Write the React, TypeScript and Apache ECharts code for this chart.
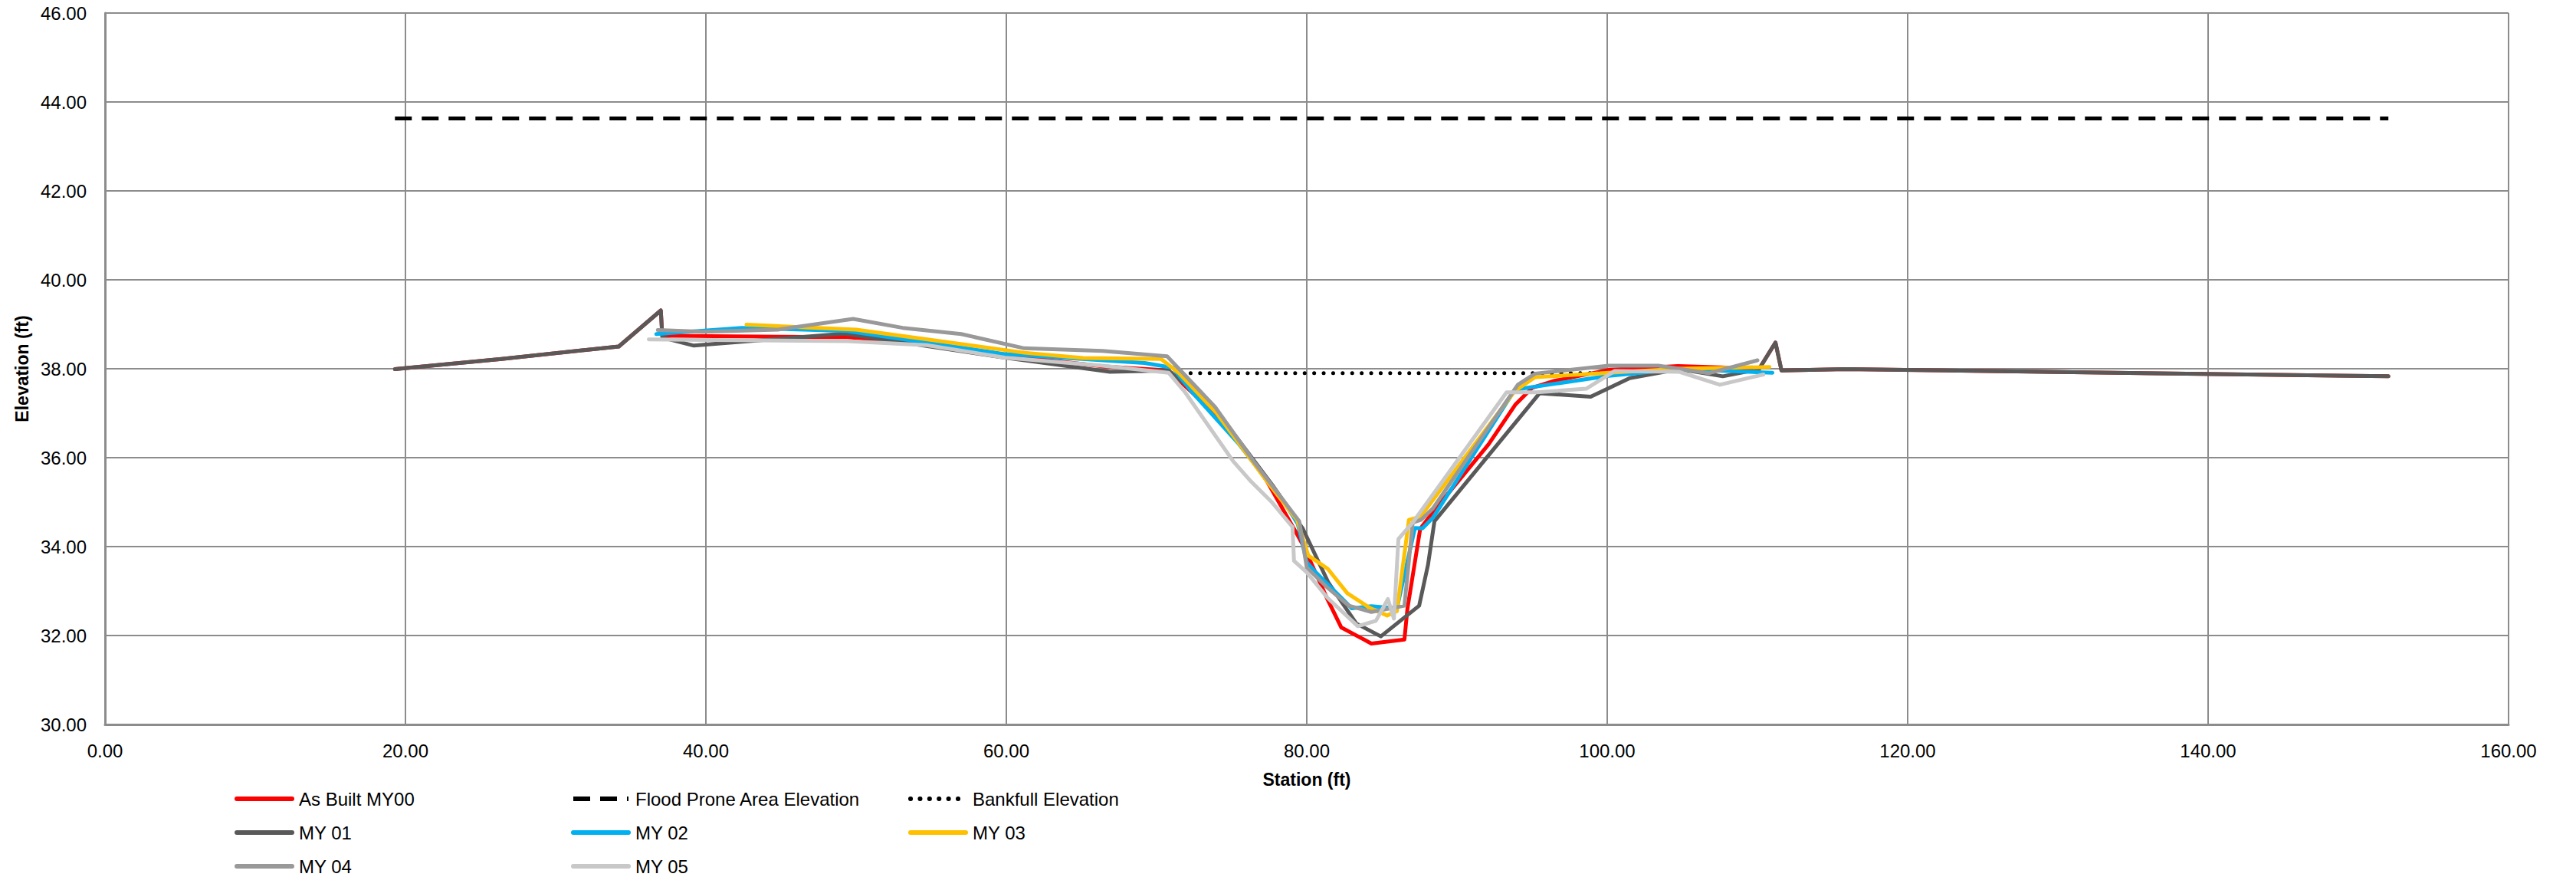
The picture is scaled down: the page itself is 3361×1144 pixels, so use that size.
import React, { useEffect, useRef } from "react";
import * as echarts from "echarts";

// Station (ft), Elevation (ft)
const asBuiltMY00: [number, number][] = [
  [19.3, 37.99], [26.4, 38.22], [34.2, 38.5], [37.0, 39.31], [37.1, 38.74], [49.4, 38.71],
  [55.0, 38.55], [59.9, 38.3], [66.5, 38.05], [70.8, 37.96], [71.3, 37.8], [74.5, 36.8],
  [77.3, 35.5], [79.4, 34.25], [79.8, 34.0], [81.4, 32.8], [82.3, 32.18], [84.3, 31.82],
  [86.5, 31.91], [86.7, 32.6], [87.55, 34.4], [88.6, 34.86], [92.1, 36.3], [93.9, 37.2],
  [95.0, 37.57], [96.5, 37.73], [100.2, 37.98], [104.7, 38.06], [107.6, 38.03], [110.1, 37.99],
  [111.2, 38.59], [111.6, 37.96], [115.9, 37.99], [152.0, 37.83],
];
const floodProne: [number, number][] = [[19.3, 43.63], [152.0, 43.63]];
const bankfull: [number, number][] = [[71.0, 37.9], [100.0, 37.9]];
const my01: [number, number][] = [
  [19.3, 37.99], [26.4, 38.22], [34.2, 38.5], [37.0, 39.31], [37.1, 38.7], [39.2, 38.52],
  [49.2, 38.79], [59.9, 38.25], [66.9, 37.93], [70.8, 37.96], [73.9, 37.1], [77.7, 35.39],
  [79.74, 34.4], [81.44, 33.19], [83.3, 32.27], [84.93, 31.98], [87.48, 32.67], [88.07, 33.59],
  [88.5, 34.57], [95.5, 37.45], [98.9, 37.37], [101.5, 37.79], [104.8, 37.99], [107.7, 37.83],
  [110.1, 37.99], [111.2, 38.59], [111.6, 37.96], [115.9, 37.99], [152.0, 37.83],
];
const my02: [number, number][] = [
  [36.7, 38.78], [42.4, 38.92], [49.4, 38.85], [59.9, 38.33], [69.2, 38.13], [71.1, 38.02],
  [72.3, 37.5], [75.5, 36.3], [78.5, 35.0], [79.4, 34.51], [80.0, 33.65], [80.6, 33.42],
  [83.0, 32.61], [84.3, 32.66], [86.0, 32.61], [87.2, 34.42], [87.7, 34.41], [88.4, 34.65],
  [93.86, 37.53], [100.1, 37.84], [104.8, 37.99], [111.0, 37.91],
];
const my03: [number, number][] = [
  [42.7, 38.99], [50.0, 38.88], [61.2, 38.36], [65.1, 38.24], [70.3, 38.22], [71.5, 37.9],
  [74.0, 37.0], [77.5, 35.4], [79.35, 34.6], [80.1, 33.8], [81.4, 33.5], [82.7, 32.95],
  [84.2, 32.62], [85.35, 32.45], [86.0, 32.55], [86.8, 34.6], [87.55, 34.67], [93.85, 37.5],
  [95.2, 37.81], [100.1, 37.91], [104.8, 38.0], [110.8, 38.04],
];
const my04: [number, number][] = [
  [36.8, 38.87], [39.8, 38.83], [44.8, 38.88], [49.8, 39.12], [53.1, 38.92], [57.0, 38.78],
  [61.2, 38.46], [66.4, 38.4], [70.7, 38.28], [73.9, 37.14], [76.5, 35.9], [79.5, 34.57],
  [80.0, 33.53], [81.4, 33.07], [82.8, 32.67], [84.3, 32.53], [86.5, 32.67], [87.05, 34.54],
  [87.6, 34.6], [88.4, 34.86], [94.05, 37.64], [95.2, 37.89], [100.1, 38.07], [103.4, 38.07],
  [106.75, 37.9], [110.0, 38.19],
];
const my05: [number, number][] = [
  [36.2, 38.66], [49.4, 38.62], [54.7, 38.53], [59.9, 38.25], [66.4, 38.07], [70.8, 37.91],
  [71.9, 37.47], [75.1, 35.92], [76.3, 35.46], [77.7, 34.99], [79.05, 34.44], [79.15, 33.68],
  [80.0, 33.42], [81.4, 32.84], [83.4, 32.21], [84.6, 32.33], [85.4, 32.82], [85.8, 32.38],
  [86.1, 34.17], [87.05, 34.54], [93.3, 37.47], [95.3, 37.47], [98.6, 37.55], [100.5, 37.95],
  [104.8, 37.93], [107.5, 37.64], [110.4, 37.87],
];

const seriesNames = [
  "As Built MY00", "Flood Prone Area Elevation", "Bankfull Elevation",
  "MY 01", "MY 02", "MY 03", "MY 04", "MY 05",
];
// legend grid: [column, row] for each series name, in the same order
const legendCells: [number, number][] = [
  [0, 0], [1, 0], [2, 0], [0, 1], [1, 1], [2, 1], [0, 2], [1, 2],
];

const FONT = "Liberation Sans, Arial, sans-serif";

export default function App() {
  const ref = useRef<HTMLDivElement>(null);
  useEffect(() => {
    if (!ref.current) return;
    const chart = echarts.init(ref.current, undefined, { renderer: "svg" });
    const line = (name: string, data: [number, number][], color: string, extra: any = {}) => ({
      name,
      type: "line",
      data,
      symbol: "none",
      showSymbol: false,
      lineStyle: { color, width: 5, cap: "round", join: "round", ...extra },
      itemStyle: { color },
      z: 2,
    });
    const colLeft = [306, 745, 1185];
    const rowTop = [1030, 1074, 1118];
    const legends = seriesNames.map((n, i) => ({
      orient: "horizontal",
      left: colLeft[legendCells[i][0]],
      top: rowTop[legendCells[i][1]],
      itemWidth: 72,
      itemHeight: 24,
      itemGap: 0,
      padding: 0,
      itemStyle: { opacity: 0 },
      lineStyle: { width: 6 },
      textStyle: {
        fontSize: 24, lineHeight: 24, color: "#000", fontFamily: FONT, padding: [0, 0, 0, 4],
      },
      selectedMode: false,
      data: [n],
    }));
    chart.setOption({
      animation: false,
      backgroundColor: "#fff",
      textStyle: { fontFamily: FONT },
      grid: { left: 137, right: 88, top: 17, bottom: 199, containLabel: false },
      legend: legends,
      xAxis: {
        type: "value",
        min: 0,
        max: 160,
        interval: 20,
        name: "Station (ft)",
        nameLocation: "middle",
        nameGap: 60,
        nameTextStyle: { fontSize: 23, fontWeight: "bold", color: "#000", fontFamily: FONT },
        axisLine: { show: true, onZero: false, lineStyle: { color: "#8c8c8c", width: 3 } },
        axisTick: { show: false },
        axisLabel: {
          fontSize: 24, color: "#000", margin: 22, fontFamily: FONT,
          formatter: (v: number) => v.toFixed(2),
        },
        splitLine: { show: true, lineStyle: { color: "#8c8c8c", width: 2 } },
      },
      yAxis: {
        type: "value",
        min: 30,
        max: 46,
        interval: 2,
        name: "Elevation (ft)",
        nameLocation: "middle",
        nameGap: 97,
        nameTextStyle: { fontSize: 23, fontWeight: "bold", color: "#000", fontFamily: FONT },
        axisLine: { show: true, onZero: false, lineStyle: { color: "#8c8c8c", width: 3 } },
        axisTick: { show: false },
        axisLabel: {
          fontSize: 24, color: "#000", margin: 24, fontFamily: FONT,
          formatter: (v: number) => v.toFixed(2),
        },
        splitLine: { show: true, lineStyle: { color: "#8c8c8c", width: 2 } },
      },
      series: [
        line(seriesNames[0], asBuiltMY00, "#ff0000"),
        line(seriesNames[1], floodProne, "#000000", { type: [22, 13], width: 5, cap: "butt" }),
        line(seriesNames[2], bankfull, "#000000", { type: [0.1, 12.3], width: 5, cap: "round" }),
        line(seriesNames[3], my01, "#595959"),
        line(seriesNames[4], my02, "#00b0f0"),
        line(seriesNames[5], my03, "#ffc000"),
        line(seriesNames[6], my04, "#999999"),
        line(seriesNames[7], my05, "#c8c8c8"),
      ],
    });
    return () => chart.dispose();
  }, []);
  return (
    <div
      ref={ref}
      style={{ position: "fixed", left: 0, top: 0, width: 3361, height: 1144, background: "#fff" }}
    />
  );
}
